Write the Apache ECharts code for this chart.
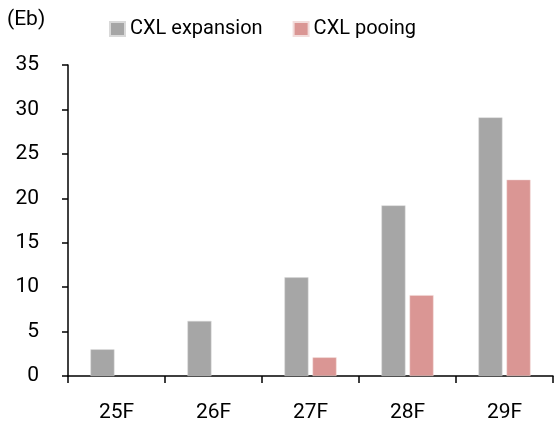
<!DOCTYPE html>
<html><head><meta charset="utf-8">
<script src="https://cdn.jsdelivr.net/npm/echarts@6/dist/echarts.min.js"></script>
<style>html,body{margin:0;padding:0;background:#fff}#c{width:554px;height:429px}</style>
</head><body><div id="c"></div>
<script>
var categories = ['25F', '26F', '27F', '28F', '29F'];
var expansion = [3.0, 6.2, 11.1, 19.2, 29.1];
var pooling = [null, null, 2.1, 9.1, 22.1];
var seriesNames = ['CXL expansion', 'CXL pooing'];
var unitLabel = '(Eb)';
var FONT = 'Roboto';
var chart = echarts.init(document.getElementById('c'), null, {renderer: 'canvas'});
chart.setOption({
  animation: false,
  textStyle: {fontFamily: FONT},
  graphic: [{type: 'text', left: 7, top: 9, style: {text: unitLabel, font: '21px ' + FONT, fill: '#000'}}],
  legend: {
    data: seriesNames, left: 104, top: 14, itemWidth: 15, itemHeight: 14, itemGap: 30,
    icon: 'rect', textStyle: {fontSize: 20, color: '#000', fontFamily: FONT}
  },
  grid: {left: 68, right: 1, top: 65, bottom: 53, containLabel: false},
  xAxis: {
    type: 'category', data: categories,
    axisLine: {lineStyle: {color: '#000', width: 1.5}},
    axisTick: {show: true, length: 7, lineStyle: {color: '#000', width: 1.5}},
    axisLabel: {color: '#000', fontSize: 21, margin: 26, fontFamily: FONT}
  },
  yAxis: {
    type: 'value', min: 0, max: 35, interval: 5,
    splitLine: {show: false},
    axisLine: {show: true, lineStyle: {color: '#000', width: 1.5}},
    axisTick: {show: true, length: 6, lineStyle: {color: '#000', width: 1.5}},
    axisLabel: {color: '#000', fontSize: 21, margin: 29, fontFamily: FONT}
  },
  series: [
    {name: seriesNames[0], type: 'bar', data: expansion, barWidth: 24, barGap: '17%',
     itemStyle: {color: '#A6A6A6', borderColor: '#D9D9D9', borderWidth: 0.5}},
    {name: seriesNames[1], type: 'bar', data: pooling, barWidth: 24,
     itemStyle: {color: '#DA9694', borderColor: '#F2DCDB', borderWidth: 0.5}}
  ]
});
</script></body></html>
